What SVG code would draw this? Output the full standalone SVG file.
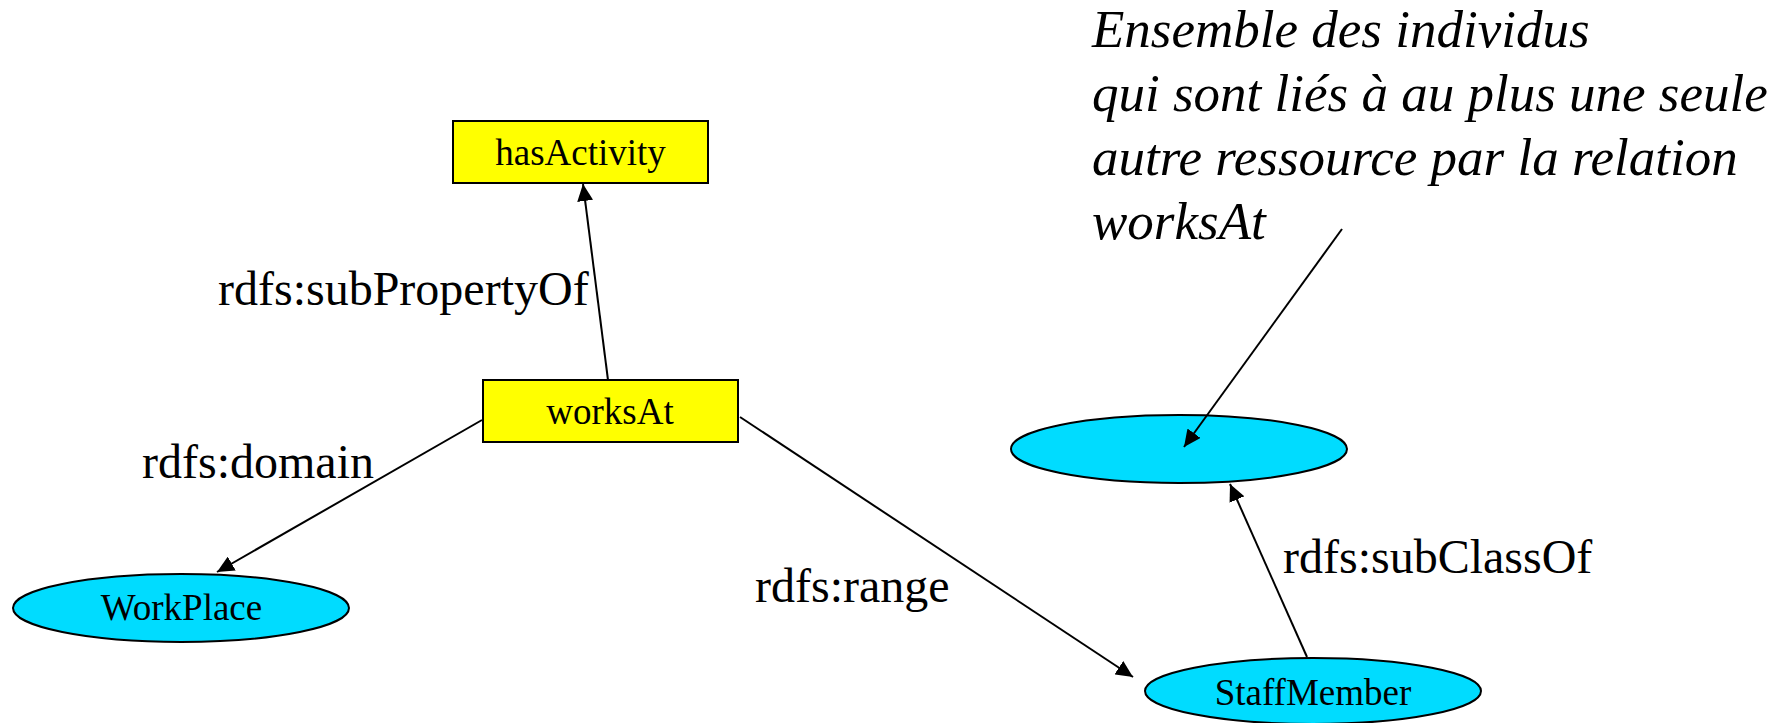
<svg xmlns="http://www.w3.org/2000/svg" width="1784" height="723" viewBox="0 0 1784 723">
<style>
.prop{fill:#FFFF00;stroke:#000;stroke-width:2}
.cls{fill:#00DCFF;stroke:#000;stroke-width:2}
.nt{font-family:"Liberation Serif","Times New Roman",serif;font-size:37px;fill:#000;text-anchor:middle}
.lbl{font-family:"Liberation Serif","Times New Roman",serif;font-size:48px;fill:#000}
.note{font-family:"Liberation Serif","Times New Roman",serif;font-size:53px;font-style:italic;fill:#000}
.edge{stroke:#000;stroke-width:2;fill:none;marker-end:url(#arr)}
</style>
<defs>
<marker id="arr" markerUnits="userSpaceOnUse" markerWidth="18" markerHeight="16" refX="17" refY="8" orient="auto">
<path d="M0,0 L17,8 L0,16 z" fill="#000"/>
</marker>
</defs>
<g id="hasActivity">
<rect class="prop" x="453" y="121" width="255" height="62"/>
<text class="nt" x="580.5" y="165">hasActivity</text>
</g>
<g id="worksAt">
<rect class="prop" x="483" y="380" width="255" height="62"/>
<text class="nt" x="610" y="424">worksAt</text>
</g>
<g id="WorkPlace">
<ellipse class="cls" cx="181" cy="608" rx="168" ry="34"/>
<text class="nt" x="181.5" y="620">WorkPlace</text>
</g>
<g id="StaffMember">
<ellipse class="cls" cx="1313" cy="691" rx="168" ry="33"/>
<text class="nt" x="1313" y="705">StaffMember</text>
</g>
<g id="restriction">
<ellipse class="cls" cx="1179" cy="449" rx="168" ry="34"/>
</g>
<g id="note">
<text class="note" x="1092" y="47">Ensemble des individus</text>
<text class="note" x="1092" y="111">qui sont liés à au plus une seule</text>
<text class="note" x="1092" y="175">autre ressource par la relation</text>
<text class="note" x="1092" y="239">worksAt</text>
</g>
<g id="labels">
<text class="lbl" x="218" y="305">rdfs:subPropertyOf</text>
<text class="lbl" x="142" y="478">rdfs:domain</text>
<text class="lbl" x="755" y="602">rdfs:range</text>
<text class="lbl" x="1283" y="573">rdfs:subClassOf</text>
</g>
<g id="connectors">
<line class="edge" x1="608" y1="380" x2="583" y2="184"/>
<line class="edge" x1="482" y1="420" x2="217" y2="572"/>
<line class="edge" x1="740" y1="417" x2="1133" y2="677"/>
<line class="edge" x1="1307" y1="657" x2="1230" y2="484"/>
<line class="edge" x1="1342" y1="229" x2="1184" y2="447"/>
</g>
</svg>
